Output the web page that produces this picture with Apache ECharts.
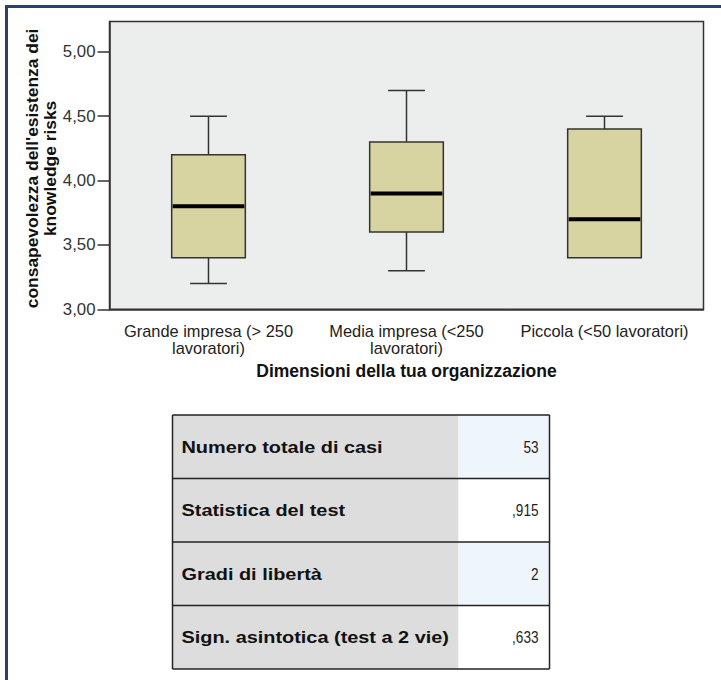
<!DOCTYPE html>
<html>
<head>
<meta charset="utf-8">
<script src="https://cdn.jsdelivr.net/npm/echarts@6/dist/echarts.min.js"></script>
<style>
html,body{margin:0;padding:0;background:#fff;}
#chart{width:721px;height:680px;}
</style>
</head>
<body>
<div id="chart"></div>
<script>
// ---- data ----
const categories = ["Grande impresa (> 250\nlavoratori)", "Media impresa (<250\nlavoratori)", "Piccola (<50 lavoratori)"];
const whiskerLow = [3.2, 3.3, 3.4];
const q1 = [3.4, 3.6, 3.4];
const median = [3.8, 3.9, 3.7];
const q3 = [4.2, 4.3, 4.4];
const whiskerHigh = [4.5, 4.7, 4.5];
const yTicks = [3.0, 3.5, 4.0, 4.5, 5.0];
const yAxisTitle = "consapevolezza dell'esistenza dei\nknowledge risks";
const xAxisTitle = "Dimensioni della tua organizzazione";
const tableLabels = ["Numero totale di casi", "Statistica del test", "Gradi di libertà", "Sign. asintotica (test a 2 vie)"];
const tableValues = ["53", ",915", "2", ",633"];

const boxData = categories.map((c, i) => [i, whiskerLow[i], q1[i], median[i], q3[i], whiskerHigh[i]]);

const FONT = "'Liberation Sans', Arial, sans-serif";

function renderBox(params, api) {
  const x = api.value(0);
  const pLo = api.coord([x, api.value(1)]);
  const pQ1 = api.coord([x, api.value(2)]);
  const pMed = api.coord([x, api.value(3)]);
  const pQ3 = api.coord([x, api.value(4)]);
  const pHi = api.coord([x, api.value(5)]);
  const band = api.size([1, 0])[0];
  const bw = band * 0.372;
  const cw = bw / 2;
  const cx = pMed[0];
  const lineStyle = { stroke: '#333', lineWidth: 1.5, fill: null };
  const children = [];
  if (api.value(5) > api.value(4)) {
    children.push({ type: 'line', shape: { x1: cx, y1: pQ3[1], x2: cx, y2: pHi[1] }, style: lineStyle });
    children.push({ type: 'line', shape: { x1: cx - cw / 2, y1: pHi[1], x2: cx + cw / 2, y2: pHi[1] }, style: lineStyle });
  }
  if (api.value(1) < api.value(2)) {
    children.push({ type: 'line', shape: { x1: cx, y1: pQ1[1], x2: cx, y2: pLo[1] }, style: lineStyle });
    children.push({ type: 'line', shape: { x1: cx - cw / 2, y1: pLo[1], x2: cx + cw / 2, y2: pLo[1] }, style: lineStyle });
  }
  children.push({ type: 'rect', shape: { x: cx - bw / 2, y: pQ3[1], width: bw, height: pQ1[1] - pQ3[1] },
    style: { fill: '#d7d4a1', stroke: '#333', lineWidth: 1.5 } });
  children.push({ type: 'line', shape: { x1: cx - bw / 2 + 1, y1: pMed[1], x2: cx + bw / 2 - 1, y2: pMed[1] },
    style: { stroke: '#000', lineWidth: 4 } });
  return { type: 'group', children: children };
}

// table graphic
const tLeft = 172.5, tSplit = 458.5, tRight = 549.5, tTop = 415, rowH = 63.5;
const tableEls = [];
tableLabels.forEach((lab, i) => {
  const y = tTop + i * rowH;
  tableEls.push({ type: 'rect', shape: { x: tLeft, y: y, width: tSplit - tLeft, height: rowH }, style: { fill: '#dddddd' }, silent: true });
  tableEls.push({ type: 'rect', shape: { x: tSplit, y: y, width: tRight - tSplit, height: rowH }, style: { fill: i % 2 === 0 ? '#eff6fb' : '#ffffff' }, silent: true });
  tableEls.push({ type: 'text', x: 181.5, y: y + rowH / 2, scaleX: 1.17,
    style: { text: lab, font: "bold 17px " + FONT, fill: '#111', verticalAlign: 'middle', align: 'left' } });
  tableEls.push({ type: 'text', x: tRight - 11, y: y + rowH / 2, scaleX: 0.8,
    style: { text: tableValues[i], font: "17px " + FONT, fill: '#222', verticalAlign: 'middle', align: 'right' } });
});
for (let i = 0; i <= tableLabels.length; i++) {
  const y = tTop + i * rowH;
  tableEls.push({ type: 'line', shape: { x1: tLeft, y1: y, x2: tRight, y2: y }, style: { stroke: '#222', lineWidth: 1.5 } });
}
tableEls.push({ type: 'line', shape: { x1: tLeft, y1: tTop, x2: tLeft, y2: tTop + rowH * tableLabels.length }, style: { stroke: '#222', lineWidth: 1.5 } });
tableEls.push({ type: 'line', shape: { x1: tRight, y1: tTop, x2: tRight, y2: tTop + rowH * tableLabels.length }, style: { stroke: '#222', lineWidth: 1.5 } });
// outer frame
tableEls.push({ type: 'rect', shape: { x: 5, y: 5, width: 716, height: 3 }, style: { fill: '#2e3f6e' } });
tableEls.push({ type: 'rect', shape: { x: 5, y: 5, width: 3, height: 675 }, style: { fill: '#2e3f6e' } });

const chart = echarts.init(document.getElementById('chart'), null, { renderer: 'svg' });
chart.setOption({
  animation: false,
  backgroundColor: '#ffffff',
  grid: {
    left: 109.5, top: 21.5, right: 17.5, bottom: 370.7,
    containLabel: false, outerBoundsMode: 'none',
    show: true, backgroundColor: '#eceeed', borderColor: '#333', borderWidth: 1.5
  },
  xAxis: {
    type: 'category',
    data: categories,
    name: xAxisTitle,
    nameLocation: 'middle',
    nameGap: 53,
    nameMoveOverlap: false,
    nameTextStyle: { fontFamily: FONT, fontWeight: 'bold', fontSize: 17.5, color: '#111' },
    axisLine: { lineStyle: { color: '#333', width: 1.5 } },
    axisTick: { alignWithLabel: true, length: 10, lineStyle: { color: '#333', width: 1.5 } },
    axisLabel: { fontFamily: FONT, fontSize: 16.4, color: '#222', lineHeight: 17, margin: 13, interval: 0 },
    splitLine: { show: false }
  },
  yAxis: {
    type: 'value',
    min: 3.0, max: 5.235,
    name: yAxisTitle,
    nameLocation: 'middle',
    nameGap: 51,
    nameMoveOverlap: false,
    nameTextStyle: { fontFamily: FONT, fontWeight: 'bold', fontSize: 17.4, color: '#111', lineHeight: 18, padding: [0, 6, 0, 0] },
    axisLine: { show: true, lineStyle: { color: '#333', width: 1.5 } },
    axisTick: { show: true, length: 12, customValues: yTicks, lineStyle: { color: '#333', width: 1.5 } },
    axisLabel: { customValues: yTicks, fontFamily: FONT, fontSize: 16.8, color: '#333', margin: 14,
      formatter: v => v.toFixed(2).replace('.', ',') },
    splitLine: { show: false }
  },
  series: [{
    type: 'custom',
    renderItem: renderBox,
    encode: { x: 0, y: [1, 2, 3, 4, 5] },
    data: boxData
  }],
  graphic: { elements: tableEls }
});
</script>
</body>
</html>
